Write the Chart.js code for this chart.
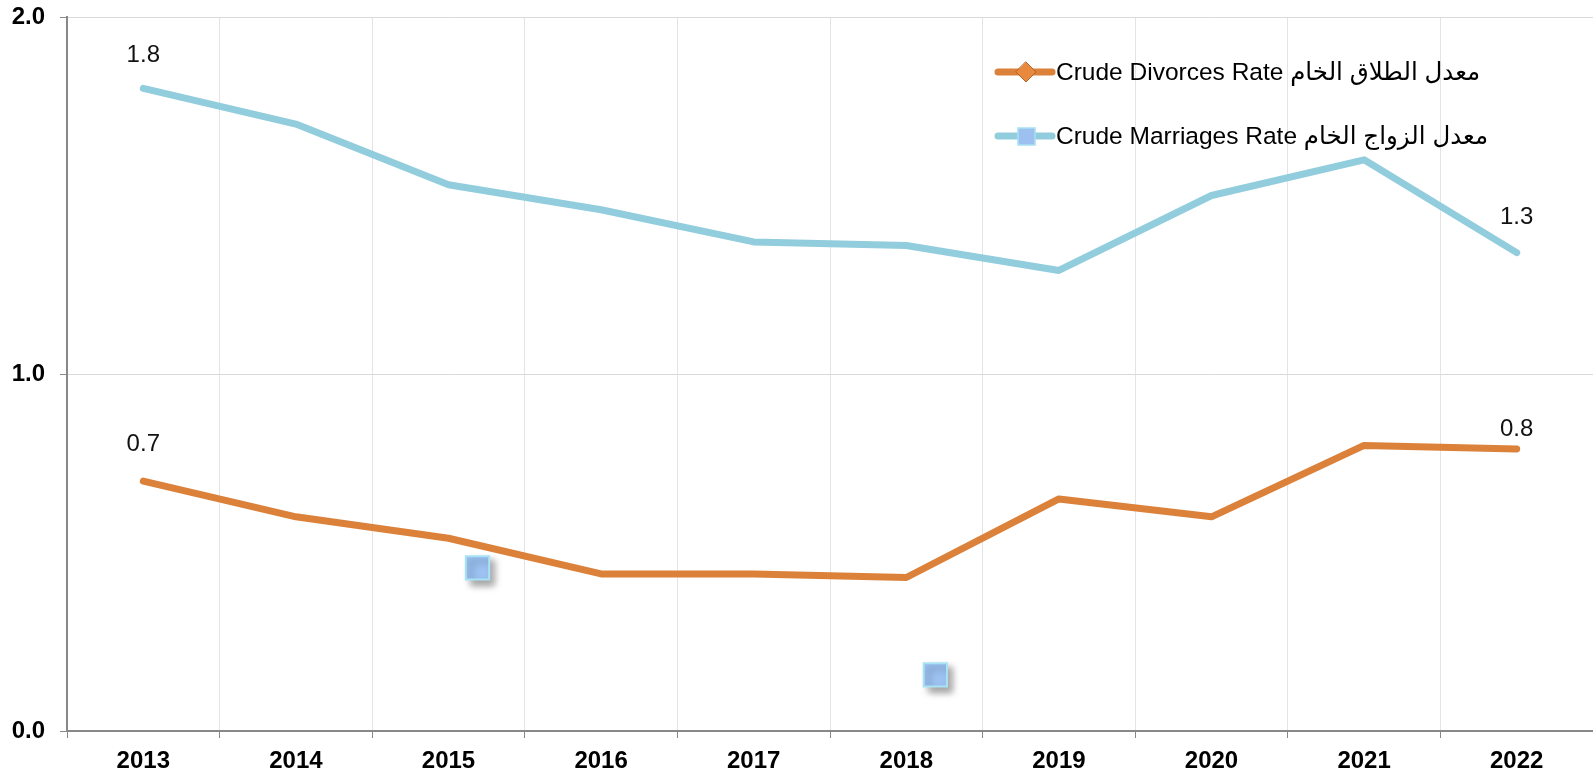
<!DOCTYPE html>
<html>
<head>
<meta charset="utf-8">
<script src="https://cdn.jsdelivr.net/npm/chart.js@4/dist/chart.umd.min.js"></script>
<style>
  html,body{margin:0;padding:0;background:#fff;}
  #wrap{width:1593px;height:776px;position:relative;}
</style>
</head>
<body>
<div id="wrap"><canvas id="rates"></canvas></div>
<script>
// data
const YEARS = ['2013','2014','2015','2016','2017','2018','2019','2020','2021','2022'];
const DIVORCES = [0.70, 0.60, 0.54, 0.44, 0.44, 0.43, 0.65, 0.60, 0.80, 0.79];
const MARRIAGES = [1.80, 1.70, 1.53, 1.46, 1.37, 1.36, 1.29, 1.50, 1.60, 1.34];
const Y_TICKS = [0, 1, 2];
// two stray marker squares in the picture (x in category index units)
const STRAY_X = [2.19, 5.19];
const STRAY_Y = [0.457, 0.157];

const LEGEND = ['Crude Divorces Rate معدل الطلاق الخام', 'Crude Marriages Rate معدل الزواج الخام'];
const ORANGE = '#dc813a', BLUE = '#92cddd';
const FONT = "'Liberation Sans', Arial, 'DejaVu Sans', sans-serif";

// first/last labels, lifted above the point by these amounts
const LABEL_LIFT = [[37, 20], [33, 35]];

const endLabels = {
  id:'endLabels',
  afterDatasetsDraw(chart){
    const ctx = chart.ctx;
    ctx.save();
    ctx.font = '24px ' + FONT;
    ctx.fillStyle = '#111';
    ctx.textAlign = 'center'; ctx.textBaseline = 'middle';
    [0,1].forEach(di=>{
      const meta = chart.getDatasetMeta(di);
      const vals = chart.data.datasets[di].data;
      [0, vals.length-1].forEach((i,k)=>{
        const p = meta.data[i];
        ctx.fillText(vals[i].toFixed(1), p.x, p.y - LABEL_LIFT[di][k]);
      });
    });
    ctx.restore();
  }
};

const legendBox = {
  id:'legendBox',
  afterDraw(chart){
    const ctx = chart.ctx;
    const rows = [72, 136];
    ctx.save();
    rows.forEach((y,i)=>{
      ctx.strokeStyle = i===0 ? ORANGE : BLUE;
      ctx.lineWidth = 7; ctx.lineCap = 'round';
      ctx.beginPath(); ctx.moveTo(998, y); ctx.lineTo(1052, y); ctx.stroke();
      if(i===0){
        ctx.beginPath();
        ctx.moveTo(1026, y-10); ctx.lineTo(1036, y); ctx.lineTo(1026, y+10); ctx.lineTo(1016, y); ctx.closePath();
        ctx.fillStyle = '#e8893e'; ctx.fill();
        ctx.strokeStyle = '#b5622a'; ctx.lineWidth = 1; ctx.stroke();
      } else {
        ctx.fillStyle = '#9cc1f1';
        ctx.fillRect(1018, y-8, 17, 17);
        ctx.strokeStyle = '#a8e0f2'; ctx.lineWidth = 1.5;
        ctx.strokeRect(1018, y-8, 17, 17);
      }
      ctx.fillStyle = '#000';
      ctx.font = '24.5px ' + FONT;
      ctx.textAlign = 'left'; ctx.textBaseline = 'middle';
      ctx.fillText(LEGEND[i], 1056, y+1);
    });
    ctx.restore();
  }
};

const shadowStray = {
  id:'shadowStray',
  beforeDatasetDraw(chart, args){
    if(args.index !== 2) return;
    const ctx = chart.ctx;
    ctx.save();
    ctx.shadowColor = 'rgba(0,0,0,0.35)';
    ctx.shadowOffsetX = 5; ctx.shadowOffsetY = 5; ctx.shadowBlur = 7;
  },
  afterDatasetDraw(chart, args){
    if(args.index !== 2) return;
    chart.ctx.restore();
  }
};

new Chart(document.getElementById('rates'), {
  type:'line',
  data:{
    labels: YEARS,
    datasets:[
      {label:'divorces', data: DIVORCES, borderColor: ORANGE, borderWidth:7, borderCapStyle:'round', borderJoinStyle:'round', pointRadius:0, tension:0},
      {label:'marriages', data: MARRIAGES, borderColor: BLUE, borderWidth:7, borderCapStyle:'round', borderJoinStyle:'round', pointRadius:0, tension:0},
      {type:'scatter', label:'stray', xAxisID:'x2', data: STRAY_X.map((x,i)=>({x:x, y:STRAY_Y[i]})),
       pointStyle:'rect', pointRadius:16.5, backgroundColor:'#9cc2f2', borderColor:'#a9e2f4', borderWidth:2}
    ]
  },
  options:{
    responsive:true, maintainAspectRatio:false, animation:false,
    layout:{autoPadding:false, padding:{top:17, right:0, left:0, bottom:0}},
    plugins:{legend:{display:false}, tooltip:{enabled:false}},
    scales:{
      x:{
        offset:true,
        grid:{offset:true, color:'#e4e4e4', tickColor:'#888', tickLength:7, borderDash:[3,3], tickBorderDash:[], lineWidth:1},
        border:{color:'#888', width:2},
        ticks:{color:'#000', padding:9, font:{family:FONT, size:24, weight:'bold'}},
        afterFit(s){ s.height = 45; s.paddingLeft = 0; s.paddingRight = 0; }
      },
      x2:{type:'linear', display:false, min:-0.5, max:9.5, ticks:{display:false},
        afterFit(s){ s.paddingLeft = 0; s.paddingRight = 0; }},
      y:{
        min:0, max:2,
        afterBuildTicks(s){ s.ticks = Y_TICKS.map(v=>({value:v})); },
        grid:{color:'#d9d9d9', tickColor:'#888', tickLength:7, lineWidth:1},
        border:{color:'#888', width:2},
        ticks:{color:'#000', padding:15, font:{family:FONT, size:24, weight:'bold'}, callback:v=>Number(v).toFixed(1)},
        afterFit(s){ s.width = 67; s.paddingTop = 0; s.paddingBottom = 0; }
      }
    }
  },
  plugins:[endLabels, legendBox, shadowStray]
});
</script>
</body>
</html>
